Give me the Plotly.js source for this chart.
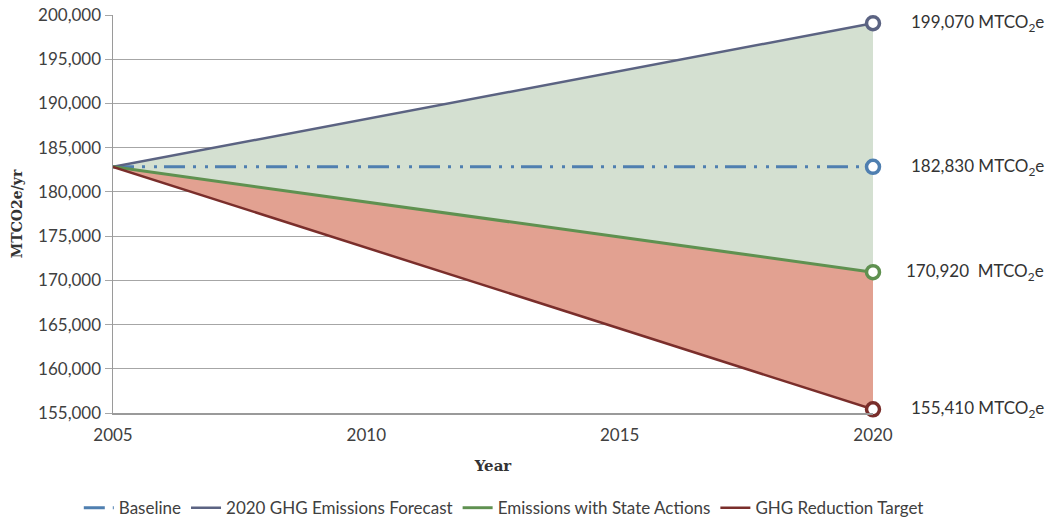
<!DOCTYPE html>
<html>
<head>
<meta charset="utf-8">
<script src="https://cdn.plot.ly/plotly-3.0.1.min.js"></script>
<style>html,body{margin:0;padding:0;background:#fff;}#chart{width:1053px;height:521px;}</style>
</head>
<body>
<div id="chart"></div>
<script>
const years = [2005, 2020];
const baseline = [182830, 182830];
const forecast = [182830, 199070];
const stateActions = [182830, 170920];
const target = [182830, 155410];
const seriesNames = ["Baseline", "2020 GHG Emissions Forecast", "Emissions with State Actions", "GHG Reduction Target"];
const endLabels = ["199,070 MTCO<sub>2</sub>e", "182,830 MTCO<sub>2</sub>e", "170,920  MTCO<sub>2</sub>e", "155,410 MTCO<sub>2</sub>e"];
const yTicks = [155000, 160000, 165000, 170000, 175000, 180000, 185000, 190000, 195000, 200000];
const xTicks = [2005, 2010, 2015, 2020];

const cBase = "#4F7FB0", cFore = "#5B6382", cState = "#5F9150", cTarget = "#7A2E2B";
const FONT = "Lato, 'Open Sans', sans-serif";
const last = years.length - 1;

function endMarker(series, color) {
  return {x: [years[last]], y: [series[last]], mode: "markers", showlegend: false, hoverinfo: "skip", cliponaxis: false,
    marker: {symbol: "circle", size: 13, color: "#fff", line: {color: color, width: 3.5}}};
}
function fillTrace(series, color) {
  const t = {x: years, y: series, mode: "lines", line: {width: 0, color: "rgba(0,0,0,0)"},
    showlegend: false, hoverinfo: "skip"};
  if (color) { t.fill = "tonexty"; t.fillcolor = color; }
  return t;
}

const traces = [
  fillTrace(target, null),
  fillTrace(stateActions, "#E2A191"),
  fillTrace(forecast, "#D4E0D1"),
  {x: years, y: baseline, name: seriesNames[0], mode: "lines",
    line: {color: cBase, width: 3, dash: "21px,8px,3px,9px,3px,7px"}},
  {x: years, y: forecast, name: seriesNames[1], mode: "lines", line: {color: cFore, width: 2.5}},
  {x: years, y: stateActions, name: seriesNames[2], mode: "lines", line: {color: cState, width: 3}},
  {x: years, y: target, name: seriesNames[3], mode: "lines", line: {color: cTarget, width: 2.5}},
  endMarker(forecast, cFore),
  endMarker(baseline, cBase),
  endMarker(stateActions, cState),
  endMarker(target, cTarget)
];

const labelValues = [forecast[last], baseline[last], stateActions[last], target[last]];
const annotations = endLabels.map((t, i) => ({
  text: t, x: (1046 - 113) / 760, xref: "paper", xanchor: "right",
  y: labelValues[i], yref: "y", yanchor: "middle", showarrow: false,
  font: {family: FONT, size: 17, color: "#333"}
}));

const layout = {
  width: 1053, height: 521,
  margin: {l: 113, r: 180, t: 15, b: 108, autoexpand: false},
  paper_bgcolor: "#fff", plot_bgcolor: "#fff",
  font: {family: FONT, color: "#404040", size: 16},
  showlegend: true,
  legend: {orientation: "h", xref: "paper", x: -0.045, xanchor: "left", yref: "paper", y: -0.239, yanchor: "middle",
    font: {family: FONT, size: 17, color: "#404040"}, traceorder: "normal", itemwidth: 30},
  xaxis: {range: [2005, 2020], tickvals: xTicks, ticktext: xTicks.map(String), showgrid: false,
    showline: true, linecolor: "#9A9A9A", linewidth: 1.5, ticks: "outside", ticklen: 6, tickcolor: "rgba(0,0,0,0)",
    tickfont: {family: FONT, size: 17, color: "#404040"}, zeroline: false,
    title: {text: "<b>Year</b>", font: {family: "'DejaVu Serif', serif", size: 15, color: "#333"}, standoff: 16}},
  yaxis: {range: [155000, 200000], tickvals: yTicks, ticktext: yTicks.map(v => v.toLocaleString("en-US")),
    showgrid: true, gridcolor: "#A6A6A6", gridwidth: 1, showline: true, linecolor: "#9A9A9A", linewidth: 1.5,
    ticks: "outside", ticklen: 7, tickcolor: "#A6A6A6", zeroline: false,
    tickfont: {family: FONT, size: 17, color: "#404040"},
    title: {text: "<b>MTCO2e/yr</b>", font: {family: "'DejaVu Serif', serif", size: 14, color: "#333"}, standoff: 12}},
  annotations: annotations
};

Plotly.newPlot("chart", traces, layout, {displayModeBar: false, staticPlot: true});
</script>
</body>
</html>
